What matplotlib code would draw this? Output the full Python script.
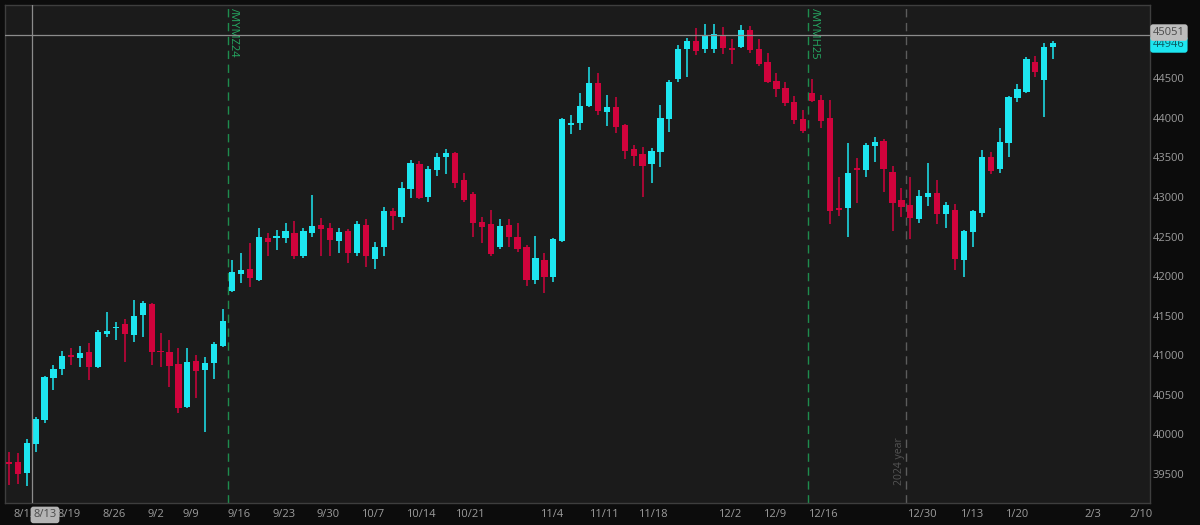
import numpy as np
import matplotlib.pyplot as plt
from matplotlib.transforms import blended_transform_factory

# Velas diarias /MYM (aprox. 8/9/2024 - 1/24/2025)
opens = [39650, 39657, 39514, 39880, 40183, 40718, 40824, 41008, 40963, 41046,
         40849, 41266, 41342, 41392, 41257, 41510, 41648, 41059, 41038, 40891,
         40351, 40929, 40815, 40907, 41118, 41816, 42027, 42091, 41952, 42486,
         42478, 42478, 42549, 42255, 42541, 42646, 42612, 42448, 42570, 42289,
         42646, 42213, 42372, 42827, 42751, 43097, 43413, 43004, 43341, 43501,
         43559, 43215, 43034, 42688, 42655, 42365, 42646, 42498, 42372, 41952,
         42204, 41993, 42448, 43913, 43931, 44149, 44436, 44077, 44133, 43909,
         43602, 43543, 43417, 43572, 43981, 44486, 44865, 44974, 44865, 44865,
         45046, 44878, 44898, 45109, 44865, 44709, 44469, 44373, 44204, 43981,
         44310, 44225, 44001, 42865, 42857, 43362, 43341, 43644, 43711, 43319,
         42962, 42899, 42718, 43004, 43047, 42785, 42836, 42204, 42562, 42794,
         43501, 43350, 43686, 44246, 44330, 44709, 44478, 44891]
highs = [39780, 39767, 39943, 40225, 40743, 40878, 41059, 41089, 41118, 41152,
         41320, 41544, 41417, 41455, 41699, 41690, 41657, 41278, 41194, 41089,
         41089, 41004, 40983, 41172, 41582, 42204, 42289, 42415, 42605, 42549,
         42583, 42675, 42701, 42605, 43025, 42731, 42675, 42605, 42592, 42697,
         42722, 42435, 42877, 42857, 43193, 43467, 43458, 43391, 43559, 43602,
         43572, 43299, 43067, 42751, 42836, 42718, 42718, 42668, 42394, 42507,
         42289, 42478, 44000, 44036, 44310, 44638, 44570, 44288, 44267, 43922,
         43657, 43635, 43615, 44162, 44478, 44920, 45004, 45131, 45185, 45185,
         45143, 44992, 45172, 45160, 44992, 44815, 44562, 44456, 44276, 44099,
         44486, 44288, 44225, 43256, 43678, 43489, 43686, 43761, 43729, 43391,
         43110, 43256, 43088, 43425, 43215, 42941, 42911, 42583, 42836, 43593,
         43572, 43868, 44276, 44427, 44772, 44781, 44949, 44974]
lows = [39360, 39375, 39350, 39783, 40142, 40562, 40752, 40878, 40849, 40689,
        40836, 41235, 41194, 40920, 41172, 41235, 40878, 40849, 40604, 40268,
        40331, 40457, 40036, 40697, 41109, 41804, 41910, 41867, 41943, 42255,
        42330, 42415, 42213, 42226, 42491, 42255, 42255, 42289, 42162, 42255,
        42120, 42087, 42255, 42583, 42675, 42984, 42971, 42941, 43265, 43290,
        43110, 42941, 42498, 42415, 42255, 42339, 42365, 42309, 41876, 41901,
        41791, 41930, 42432, 43796, 43846, 44133, 44036, 43897, 43804, 43476,
        43391, 43004, 43181, 43383, 43825, 44456, 44519, 44793, 44822, 44822,
        44806, 44680, 44878, 44815, 44654, 44444, 44259, 44149, 43922, 43812,
        44204, 43868, 42659, 42760, 42498, 42920, 43249, 43446, 43067, 42574,
        42751, 42466, 42668, 42886, 42659, 42605, 42078, 41986, 42372, 42751,
        43290, 43307, 43501, 44204, 44310, 44519, 44014, 44739]
closes = [39630, 39501, 39893, 40192, 40730, 40824, 40992, 40975, 41026, 40849,
          41291, 41311, 41362, 41266, 41501, 41665, 41046, 41042, 40869, 40331,
          40920, 40802, 40899, 41143, 41438, 42049, 42078, 41973, 42491, 42435,
          42504, 42574, 42255, 42570, 42634, 42596, 42457, 42562, 42296, 42655,
          42255, 42372, 42827, 42760, 43110, 43425, 42984, 43354, 43509, 43552,
          43181, 42962, 42668, 42617, 42280, 42634, 42498, 42343, 41952, 42226,
          41993, 42466, 43981, 43931, 44149, 44436, 44090, 44140, 43888, 43585,
          43518, 43391, 43585, 43994, 44456, 44865, 44974, 44848, 45046, 45059,
          44878, 44857, 45109, 44857, 44680, 44456, 44360, 44183, 43972, 43837,
          44216, 43960, 42827, 42836, 43299, 43341, 43657, 43698, 43350, 42920,
          42877, 42731, 43013, 43047, 42785, 42899, 42213, 42574, 42827, 43501,
          43332, 43698, 44259, 44360, 44739, 44582, 44898, 44946]

# Etiquetas del eje x (posicion en numero de vela)
tick_labels = ['8/12', '8/19', '8/26', '9/2', '9/9', '9/16', '9/23', '9/30',
               '10/7', '10/14', '10/21', '11/4', '11/11', '11/18', '12/2',
               '12/9', '12/16', '12/30', '1/13', '1/20', '2/3', '2/10']
tick_pos = [0.5, 5.5, 10.5, 15.5, 19.5, 24.5, 29.5, 34.5, 39.5, 44.5, 50.0,
            59.5, 65.0, 70.5, 79.5, 84.5, 89.5, 100.6, 106.6, 111.6, 120.5,
            125.5]
y_ticks = [39500, 40000, 40500, 41000, 41500, 42000, 42500, 43000, 43500,
           44000, 44500]

# Marcas: cambios de contrato, fin de anio y cursor
roll_pos = [24.5, 89.5]
roll_names = ['/MYMZ24', '/MYMH25']
year_pos = 100.55
cursor_pos = 2.6
cursor_date = '8/13'
cursor_price = 45051

UP = '#1de6f0'
DOWN = '#d0033c'
BG = '#1b1b1b'
OUTER = '#0c0c0c'
TXT = '#9c9c9c'


if __name__ == '__main__':
    plt.rcParams['font.family'] = ['Open Sans', 'DejaVu Sans']

    fig = plt.figure(figsize=(12, 5.25), dpi=100, facecolor=OUTER)
    ax = fig.add_axes([0.004, 0.042, 0.954, 0.9486])
    ax.set_facecolor(BG)

    o = np.array(opens)
    h = np.array(highs)
    l = np.array(lows)
    c = np.array(closes)
    x = np.arange(len(o))
    colors = np.where(c >= o, UP, DOWN)

    # mechas y cuerpos
    ax.vlines(x, l, h, colors=colors, linewidth=1.1, zorder=3)
    body_low = np.minimum(o, c)
    body_h = np.maximum(np.abs(c - o), 14)
    ax.bar(x, body_h, bottom=body_low, width=0.7, color=colors, linewidth=0,
           zorder=4)

    ax.set_xlim(-0.45, 127.8)
    ax.set_ylim(39135, 45425)

    # lineas verticales
    for p, name in zip(roll_pos, roll_names):
        ax.axvline(p, color='#1e8c4e', linestyle=(0, (6, 4)), linewidth=1,
                   zorder=2)
        ax.text(p + 0.7, 0.994, name, rotation=-90, color='#25a862',
                fontsize=8, ha='center', va='top',
                transform=blended_transform_factory(ax.transData, ax.transAxes))
    ax.axvline(year_pos, color='#5c5c5c', linestyle=(0, (6, 4)), linewidth=1,
               zorder=2)
    ax.text(year_pos - 0.75, 0.036, '2024 year', rotation=90, color='#555555',
            fontsize=7.5, ha='center', va='bottom',
            transform=blended_transform_factory(ax.transData, ax.transAxes))

    # cursor
    ax.axhline(cursor_price, color='#8c8c8c', linewidth=0.9, zorder=5)
    ax.axvline(cursor_pos, color='#8c8c8c', linewidth=0.9, zorder=5)

    # ejes
    ax.yaxis.tick_right()
    ax.set_yticks(y_ticks)
    ax.set_yticklabels([str(v) for v in y_ticks])
    ax.tick_params(axis='y', length=0, pad=2, labelsize=8, labelcolor=TXT)
    ax.set_xticks(tick_pos)
    ax.set_xticklabels(tick_labels)
    ax.tick_params(axis='x', length=0, pad=4, labelsize=8, labelcolor=TXT)
    for lbl in ax.get_xticklabels():
        lbl.set_ha('left')
    for s in ax.spines.values():
        s.set_color('#3e3e3e')
        s.set_linewidth(1)

    # cajas de precio y fecha
    ytr = blended_transform_factory(ax.transAxes, ax.transData)
    ax.text(1.003, closes[-1] - 20, str(closes[-1]), transform=ytr,
            fontsize=8, color='#0d5a60', va='center', ha='left',
            clip_on=False, zorder=6,
            bbox=dict(boxstyle='round,pad=0.25', fc=UP, ec='none'))
    ax.text(1.003, cursor_price + 25, str(cursor_price), transform=ytr,
            fontsize=8, color='#4a4a4a', va='center', ha='left',
            clip_on=False, zorder=7,
            bbox=dict(boxstyle='round,pad=0.25', fc='#bdbdbd', ec='none'))
    xtr = blended_transform_factory(ax.transData, ax.transAxes)
    ax.text(cursor_pos + 0.15, -0.013, cursor_date, transform=xtr, fontsize=8,
            color='#4a4a4a', va='top', ha='left', clip_on=False, zorder=7,
            bbox=dict(boxstyle='round,pad=0.25', fc='#b4b4b4', ec='none'))

    fig.savefig('out.png', dpi=100, facecolor=OUTER)
